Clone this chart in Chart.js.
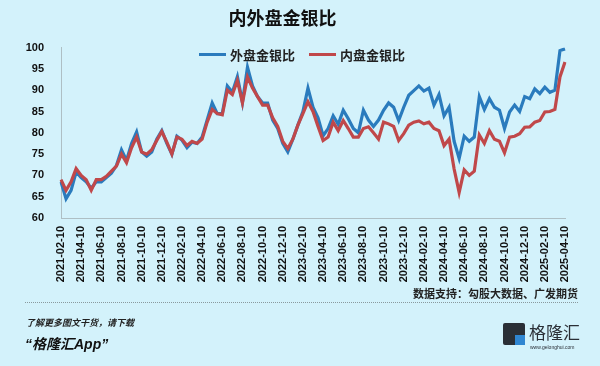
<!DOCTYPE html>
<html>
<head>
<meta charset="utf-8">
<script src="https://cdn.jsdelivr.net/npm/chart.js@4.4.0/dist/chart.umd.min.js"></script>
<style>
  body { margin: 0; background: #d3f2fb; }
  #wrap { position: relative; width: 600px; height: 366px; background: #d3f2fb; overflow: hidden;
          font-family: 'Liberation Sans', 'Noto Sans CJK SC', sans-serif; }
  #myChart { position: absolute; left: 0; top: 0; }
  .legend { position: absolute; left: 199px; top: 45px; font-size: 13px; font-weight: bold; color: #222; white-space: nowrap; }
  .legend span.ln { display: inline-block; width: 27px; height: 3px; vertical-align: middle; margin-right: 4px; }
  .legend span.tx { vertical-align: middle; margin-right: 14px; }
  .src { position: absolute; right: 22px; top: 285px; font-size: 11px; font-weight: bold; color: #222; }
  .dots { position: absolute; left: 25px; right: 22px; top: 302px; border-top: 1px dotted #8a9a9e; }
  .more { position: absolute; left: 26px; top: 316px; font-size: 9px; font-weight: bold; font-style: italic; color: #222; }
  .app { position: absolute; left: 25px; top: 333px; font-size: 14px; font-weight: bold; font-style: italic; color: #111; }
  .logo { position: absolute; left: 503px; top: 320px; width: 80px; height: 34px; white-space: nowrap; }
  .logo .ic { position: absolute; left: 0; top: 3px; width: 22px; height: 22px; background: #2a2f36; border-radius: 2px; }
  .logo .ic:after { content: ''; position: absolute; right: 0; bottom: 0; width: 10px; height: 10px; background: #2f86d1; }
  .logo .nm { position: absolute; left: 26px; top: 0; font-size: 17px; letter-spacing: 0px; color: #2a2f36; font-family: 'Noto Sans CJK SC'; line-height: 24px; }
  .logo .url { position: absolute; left: 27px; top: 24px; font-size: 5px; color: #2a2f36; }
</style>
</head>
<body>
<div id="wrap">
  <canvas id="myChart" width="600" height="366"></canvas>
  <div class="legend">
    <span class="ln" style="background:#2a7bbd"></span><span class="tx">外盘金银比</span><span class="ln" style="background:#c0484a"></span><span class="tx">内盘金银比</span>
  </div>
  <div class="src">数据支持：勾股大数据、广发期货</div>
  <div class="dots"></div>
  <div class="more">了解更多图文干货，请下载</div>
  <div class="app">“格隆汇App”</div>
  <div class="logo"><div class="ic"></div><div class="nm">格隆汇</div><div class="url">www.gelonghui.com</div></div>
</div>
<script>
// semi-monthly points, 2021-02-10 .. 2025-04-10
const dates = []
for (let y = 2021; y <= 2025; y++) {
    for (let mo = 1; mo <= 12; mo++) {
        if (y === 2021 && mo < 2) continue
        if (y === 2025 && mo > 4) break
        const mm = String(mo).padStart(2, '0')
        dates.push(`${y}-${mm}-10`)
        if (!(y === 2025 && mo === 4)) dates.push(`${y}-${mm}-25`)
    }
}

// 外盘金银比
const outerRatio = [
    68.5, 64.5, 66.5, 70.8, 69.5, 68.5, 67.0, 68.5, 68.5, 69.5,
    70.5, 72.3, 76.0, 73.5, 77.5, 80.2, 75.5, 74.5, 75.5, 78.5,
    80.5, 77.5, 75.0, 79.2, 78.3, 76.5, 77.8, 77.5, 79.0, 83.0,
    87.0, 84.5, 84.5, 91.0, 89.5, 93.2, 87.2, 95.4, 91.0, 88.5,
    87.0, 87.0, 83.0, 81.0, 77.5, 75.5, 78.5, 81.8, 85.0, 90.5,
    86.0, 83.5, 79.3, 81.0, 84.0, 82.0, 85.3, 83.3, 81.0, 80.0,
    85.3, 83.0, 81.5, 83.0, 85.3, 87.0, 86.0, 82.9, 86.0, 88.8,
    89.9, 91.0, 89.8, 90.5, 86.5, 89.0, 84.0, 86.0, 78.0, 74.0,
    79.2, 78.0, 79.0, 88.5, 85.5, 88.0, 86.0, 85.3, 81.0, 84.9,
    86.5, 85.0, 88.5, 88.0, 90.3, 89.2, 90.7, 89.5, 90.0, 99.3,
    99.7
]
// 内盘金银比
const innerRatio = [
    69.0, 66.5, 68.5, 71.6, 70.0, 69.0, 66.5, 69.0, 69.0, 69.8,
    71.0, 72.2, 75.0, 73.0, 76.5, 79.0, 75.5, 75.0, 76.0, 78.2,
    80.3, 77.8, 75.0, 79.0, 78.5, 77.0, 78.0, 77.5, 78.5, 82.5,
    85.5, 84.5, 84.2, 90.0, 89.0, 92.3, 87.0, 93.1, 90.5, 88.5,
    86.5, 86.5, 83.5, 81.5, 78.0, 76.3, 78.5, 81.8, 84.5, 87.3,
    85.0, 81.5, 78.2, 79.0, 82.5, 80.5, 82.9, 81.0, 79.0, 79.0,
    81.0, 81.4, 80.0, 78.5, 82.5, 82.1, 81.5, 78.2, 79.8, 81.8,
    82.5, 82.8, 82.1, 82.5, 81.0, 80.5, 77.0, 78.5, 71.5, 66.0,
    71.3, 70.0, 71.0, 79.5, 77.5, 80.5, 78.5, 78.0, 75.3, 79.0,
    79.2, 79.8, 81.3, 81.4, 82.5, 82.9, 84.9, 85.0, 85.5, 93.1,
    96.6
]

const yTicks = [60, 65, 70, 75, 80, 85, 90, 95, 100]

const blue = '#2a7bbd'
const red = '#c0484a'
const font = "'Liberation Sans', 'Noto Sans CJK SC', sans-serif"

const ctx = document.getElementById('myChart')

new Chart(ctx, {
    type: 'line',
    data: {
        labels: dates,
        datasets: [{
            label: '外盘金银比',
            data: outerRatio,
            borderColor: blue,
            backgroundColor: blue,
            borderWidth: 3.2,
            pointRadius: 0,
            tension: 0,
            order: 2
        }, {
            label: '内盘金银比',
            data: innerRatio,
            borderColor: red,
            backgroundColor: red,
            borderWidth: 3.2,
            pointRadius: 0,
            tension: 0,
            order: 1
        }]
    },
    options: {
        responsive: false,
        animation: false,
        layout: { padding: { left: 0, right: 35, top: 0, bottom: 82 } },
        plugins: {
            title: {
                display: true,
                text: '内外盘金银比',
                color: '#111',
                font: { family: font, size: 18, weight: 'bold' },
                padding: { top: 9, bottom: 17 }
            },
            legend: { display: false },
            tooltip: { enabled: false }
        },
        scales: {
            x: {
                offset: false,
                grid: { display: false, drawTicks: false },
                border: { color: '#aebfc4', width: 1 },
                afterFit: s => { s.height = 66 },
                ticks: {
                    autoSkip: false,
                    minRotation: 90,
                    maxRotation: 90,
                    padding: 8,
                    color: '#111',
                    font: { family: font, size: 11, weight: 'bold' },
                    callback: function (v, i) { return i % 4 === 0 ? this.getLabelForValue(v) : '' }
                }
            },
            y: {
                min: 60,
                max: 100,
                grid: { display: false, drawTicks: false },
                border: { color: '#aebfc4', width: 1 },
                afterFit: s => { s.width = 61 },
                afterBuildTicks: s => { s.ticks = yTicks.map(v => ({ value: v })) },
                ticks: {
                    padding: 17,
                    color: '#111',
                    font: { family: font, size: 11, weight: 'bold' }
                }
            }
        }
    }
})
</script>
</body>
</html>
